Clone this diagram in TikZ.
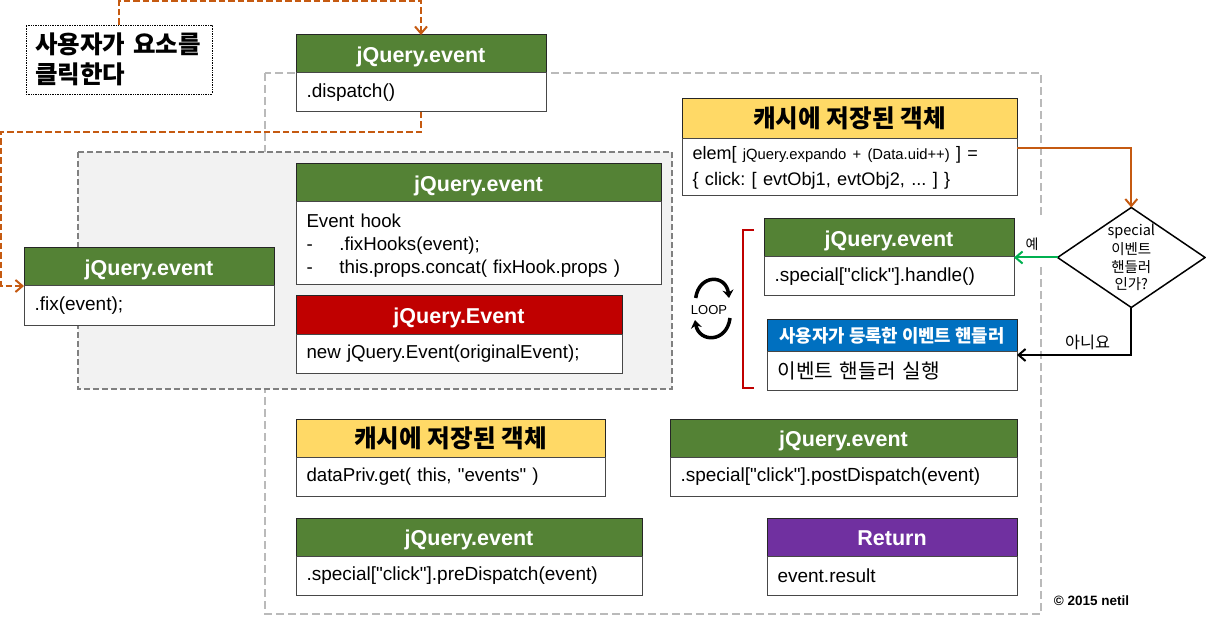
\documentclass[tikz,border=0pt]{standalone}
\usepackage{fontspec}
\setmainfont[Ligatures=TeXOff]{Liberation Sans}
\newfontfamily\krfont{Noto Sans CJK KR}
\usetikzlibrary{positioning}
\usetikzlibrary{shapes.geometric}
\usetikzlibrary{arrows.meta}
\definecolor{GREEN_H}{HTML}{548235}
\definecolor{RED_H}{HTML}{C00000}
\definecolor{YELLOW_H}{HTML}{FFD966}
\definecolor{BLUE_H}{HTML}{0070C0}
\definecolor{PURPLE_H}{HTML}{7030A0}
\definecolor{ORANGE_L}{HTML}{C55A11}
\definecolor{GREEN_L}{HTML}{00B050}
\newcommand{\sized}[1]{\fontsize{#1}{#1}\selectfont}
\tikzset{
	every node/.style = {inner sep=0pt, outer sep=0pt},
	barb/.style = {-{Straight Barb[length=7pt,width=12pt]}},
	headbox/.style = {draw=black!85, line width=1pt, anchor=north west, minimum width=#1pt, minimum height=38pt, text height=16.5pt, text depth=0pt, font=\sized{21.5}\bfseries, text=white},
	bodybox/.style = {draw=black!72, line width=1pt, fill=white, minimum width=#1pt, minimum height=39pt, text width=#1pt-21pt, inner xsep=10.5pt, align=left, font=\sized{19}},
	krhead/.style = {font=\krfont\sized{24.6}\bfseries, text=black, text height=18pt},
	orangedash/.style = {draw=ORANGE_L, line width=2pt, dash pattern=on 6.5pt off 3pt, barb},
	outerline/.style = {draw=black!27, line width=1.5pt, dash pattern=on 8pt off 4pt}
}

\begin{document}
\frenchspacing
\begin{tikzpicture}[x=1pt, y=-1pt]
		\useasboundingbox (0,0) rectangle (1206,617);
		% dashed frames
		\draw[outerline] (265,73) rectangle (1041,614);
		\draw[draw=black!50, line width=1.5pt, dash pattern=on 6pt off 3pt, fill=black!5] (78,152) rectangle (672,389);
		% click note
		\node[draw=black, densely dotted, line width=.7pt, fill=white, anchor=north west, minimum width=186pt, minimum height=69pt, text width=168pt, inner xsep=9pt, align=left, font=\krfont\sized{24.5}\bfseries] (clickNote) at (26,25) {사용자가 요소를\\[5pt]클릭한다};
		% dispatch
		\node[headbox=250, fill=GREEN_H] (dispatchHead) at (296,35) {jQuery.event};
		\node[bodybox=250, below=0pt of dispatchHead] (dispatchBody) {.dispatch()};
		% grey group
		\node[headbox=365, fill=GREEN_H] (hookHead) at (296,164) {jQuery.event};
		\node[bodybox=365, minimum height=83pt, font=\sized{18.7}, below=0pt of hookHead] (hookBody) {\rule{0pt}{18pt}Event hook\\[4.7pt]-\hspace{26.7pt}.fixHooks(event);\\[4.7pt]-\hspace{26.7pt}this.props.concat( fixHook.props )};
		\node[headbox=326, fill=RED_H] (eventHead) at (296,296) {jQuery.Event};
		\node[bodybox=326, font=\sized{18.7}, below=0pt of eventHead] (eventBody) {new jQuery.Event(originalEvent);};
		\node[headbox=250, fill=GREEN_H] (fixHead) at (24,248) {jQuery.event};
		\node[bodybox=250, below=0pt of fixHead] (fixBody) {.fix(event);};
		% cache, right
		\node[headbox=335, fill=YELLOW_H, minimum height=40pt, krhead] (cacheHead) at (682,99) {캐시에 저장된 객체};
		\node[bodybox=335, minimum height=57pt, below=0pt of cacheHead] (cacheBody) {\sized{18}elem[ \sized{14.8}jQuery.expando + (Data.uid++) \sized{18}] =\\[7pt]\sized{18.2}\{ click: [ evtObj1, evtObj2, ... ] \}};
		% loop group
		\node[headbox=250, fill=GREEN_H] (handleHead) at (764,219) {jQuery.event};
		\node[bodybox=250, below=0pt of handleHead] (handleBody) {.special["click"].handle()};
		\node[headbox=250, fill=BLUE_H, minimum height=32pt, text height=14pt, font=\krfont\sized{17.8}\bfseries] (userHead) at (767,319) {사용자가 등록한 이벤트 핸들러};
		\node[bodybox=250, font=\krfont\sized{20.2}, below=0pt of userHead] (userBody) {이벤트 핸들러 실행};
		\draw[draw=RED_H, line width=1.5pt] (754,230) -| (743,388) -- (754,388);
		\node[font=\sized{13}] (loopText) at (709,310) {LOOP};
		\draw[line width=3.5pt, -{Stealth[length=8pt,width=11pt]}] (695.7,298) .. controls (699,274) and (726,274) .. (729,298);
		\draw[line width=3.5pt, -{Stealth[length=8pt,width=11pt]}] (730,318) .. controls (727,343) and (699,343) .. (695,320);
		% bottom boxes
		\node[headbox=309, fill=YELLOW_H, krhead] (storeHead) at (296,419) {캐시에 저장된 객체};
		\node[bodybox=309, font=\sized{18.7}, below=0pt of storeHead] (storeBody) {dataPriv.get( this, "events" )};
		\node[headbox=347, fill=GREEN_H] (postHead) at (670,419) {jQuery.event};
		\node[bodybox=347, below=0pt of postHead] (postBody) {.special["click"].postDispatch(event)};
		\node[headbox=346, fill=GREEN_H] (preHead) at (296,518) {jQuery.event};
		\node[bodybox=346, below=0pt of preHead] (preBody) {.special["click"].preDispatch(event)};
		\node[headbox=250, fill=PURPLE_H] (returnHead) at (767,518) {Return};
		\node[bodybox=250, below=0pt of returnHead] (returnBody) {event.result};
		\node[font=\sized{13.5}\bfseries] (copyText) at (1091.5,601) {© 2015 netil};
		% decision
		\node[diamond, shape aspect=1.475, draw=black, line width=1.5pt, fill=white, minimum width=147.5pt, minimum height=100pt, inner sep=-2.5pt, align=center, font=\krfont\sized{14.5}] (specialDec) at (1131.3,257.5) {special\\[3pt]이벤트\\[3pt]핸들러\\[3pt]인가?};
		\node[fill=white, minimum width=30pt, text height=31pt, text depth=17pt, font=\krfont\sized{14}] (yesLabel) at (1032,243) {예};
		\node[font=\krfont\sized{16.3}] (noLabel) at (1087.5,342) {아니요};
		% connectors
		\coordinate (topRun) at (dispatchHead.north |- 0,1);
		\coordinate (midRun) at (dispatchBody.south |- 0,132);
		\coordinate (leftRun) at (1,132);
		\coordinate (cacheOut) at (1017,148);
		\coordinate (noIn) at (userBody.east |- 0,355);
		\coordinate (yesIn) at (handleBody.north east |- specialDec.west);
		\draw[orangedash] (clickNote.north) |- (topRun) -- (dispatchHead.north);
		\draw[orangedash] (dispatchBody.south) -- (midRun) -- (leftRun) |- (fixBody.north west);
		\draw[draw=ORANGE_L, line width=2pt, barb] (cacheOut) -| (specialDec.north);
		\draw[draw=GREEN_L, line width=2pt, barb] (specialDec.west) -- (yesIn);
		\draw[draw=black, line width=2pt, barb] (specialDec.south) |- (noIn);
	\end{tikzpicture}
\end{document}
